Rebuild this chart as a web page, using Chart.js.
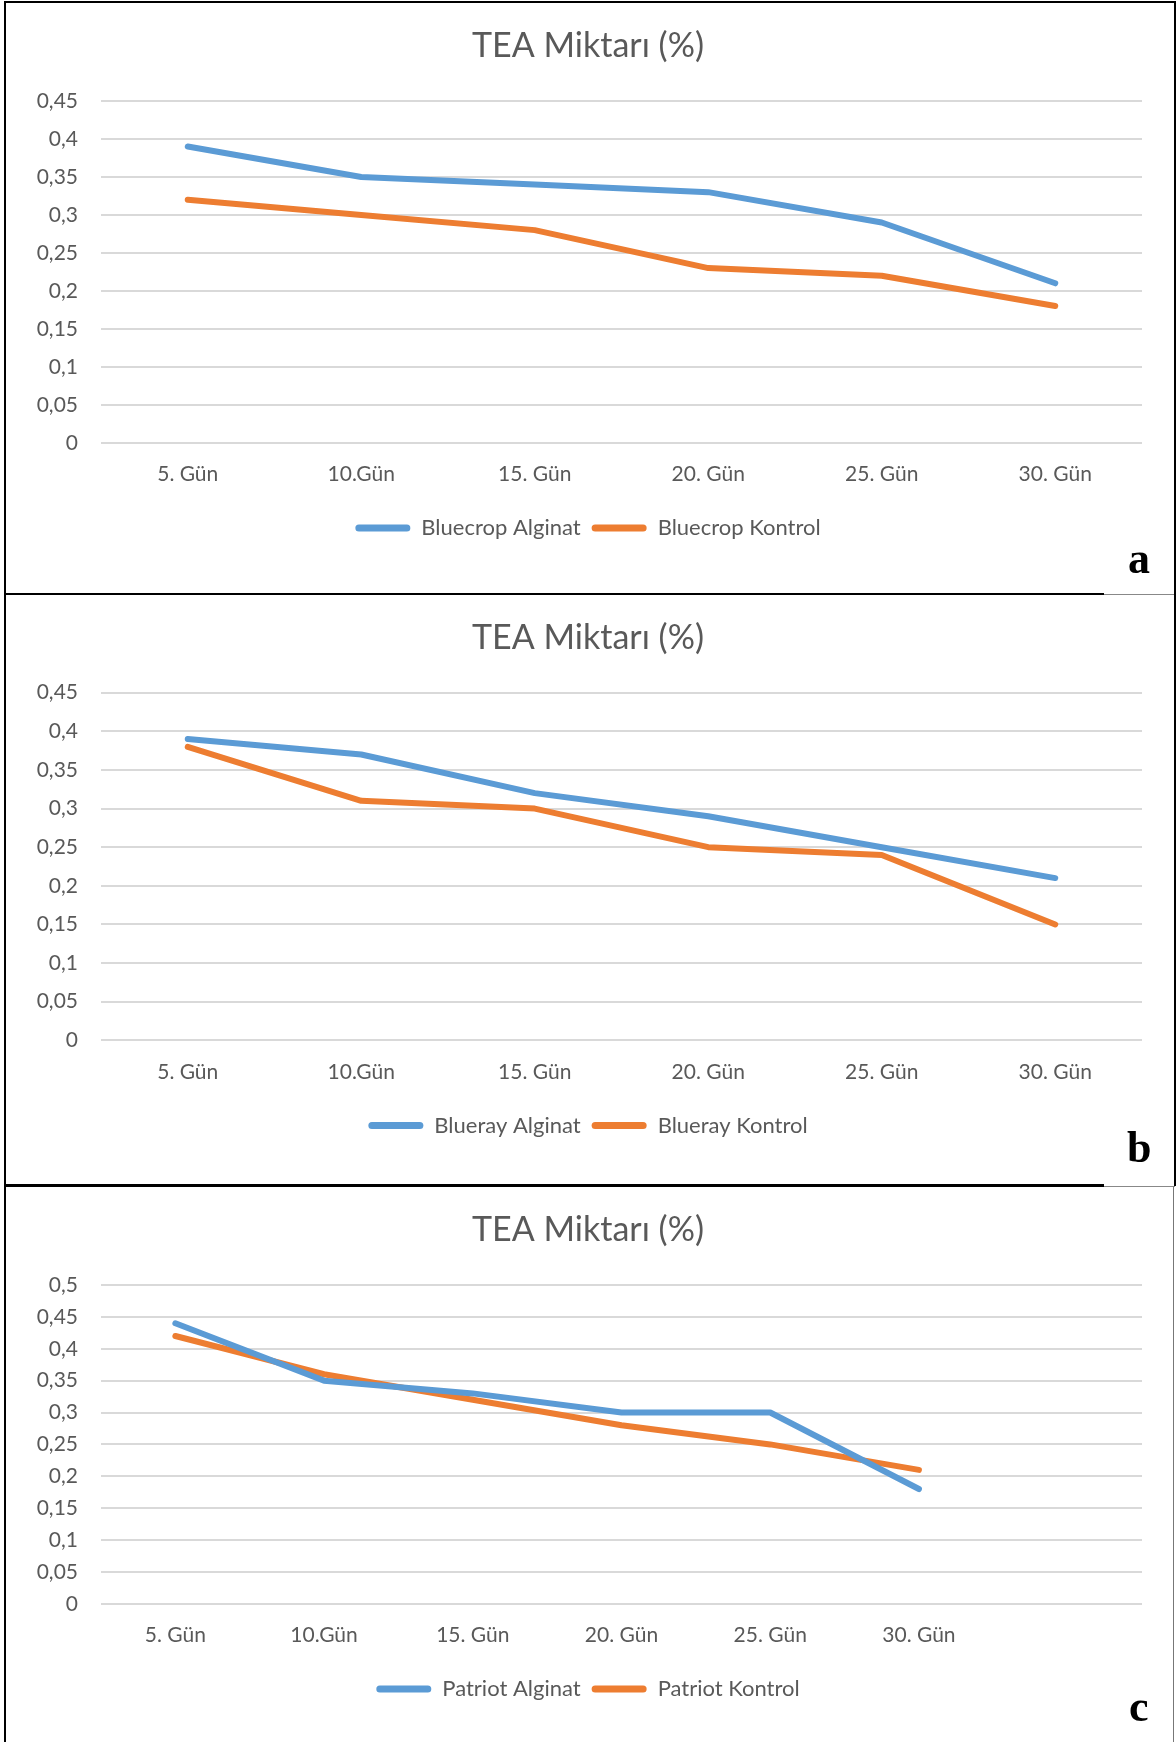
<!DOCTYPE html>
<html>
<head>
<meta charset="utf-8">
<script src="https://cdn.jsdelivr.net/npm/chart.js@4.4.1/dist/chart.umd.min.js"></script>
<style>
  body { margin: 0; background: #fff; }
  #page { position: relative; width: 1176px; height: 1742px; overflow: hidden; background: #fff; }
  .panel { position: absolute; left: 0; }
  .rule { position: absolute; background: #000; }
  .tag { position: absolute; font-family: "Liberation Serif", "Times New Roman", serif; font-weight: bold;
         font-size: 44px; line-height: 44px; color: #000; }
</style>
</head>
<body>
<div id="page">
  <canvas id="chartA" class="panel" width="1176" height="594" style="top:0"></canvas>
  <canvas id="chartB" class="panel" width="1176" height="591" style="top:594px"></canvas>
  <canvas id="chartC" class="panel" width="1176" height="557" style="top:1185px"></canvas>

  <div class="rule" style="left:4px;top:1px;width:1171px;height:2px"></div>
  <div class="rule" style="left:4px;top:593px;width:1100px;height:2px"></div>
  <div class="rule" style="left:1104px;top:594px;width:71px;height:1px;background:#888"></div>
  <div class="rule" style="left:4px;top:1184px;width:1100px;height:3px"></div>
  <div class="rule" style="left:1104px;top:1186px;width:71px;height:1px;background:#888"></div>
  <div class="rule" style="left:4px;top:1px;width:2px;height:1741px"></div>
  <div class="rule" style="left:1174px;top:1px;width:2px;height:1185px"></div>
  <div class="rule" style="left:1173px;top:1186px;width:1px;height:556px;background:#777"></div>

  <div class="tag" style="left:1128px;top:537px">a</div>
  <div class="tag" style="left:1127px;top:1126px">b</div>
  <div class="tag" style="left:1129px;top:1685px">c</div>
</div>

<script>
// x-axis categories
const daysAB = ['5. Gün', '10.Gün', '15. Gün', '20. Gün', '25. Gün', '30. Gün'];
const daysC = ['5. Gün', '10.Gün', '15. Gün', '20. Gün', '25. Gün', '30. Gün', ''];

// TEA (%) values
const bluecropAlginat = [0.39, 0.35, 0.34, 0.33, 0.29, 0.21];
const bluecropKontrol = [0.32, 0.30, 0.28, 0.23, 0.22, 0.18];
const bluerayAlginat = [0.39, 0.37, 0.32, 0.29, 0.25, 0.21];
const bluerayKontrol = [0.38, 0.31, 0.30, 0.25, 0.24, 0.15];
const patriotAlginat = [0.44, 0.35, 0.33, 0.30, 0.30, 0.18];
const patriotKontrol = [0.42, 0.36, 0.32, 0.28, 0.25, 0.21];

// y axis ranges
const yMaxAB = 0.45;
const yMaxC = 0.5;
const yStep = 0.05;

const TEXT = '#595959';
const FONT = 'Lato';

function drawPanel(id, labels, names, blue, orange, yMax, pads) {
    const leftPad = 34;
    new Chart(document.getElementById(id), {
        type: 'line',
        data: {
            labels: labels,
            datasets: [
                { label: names[0], data: blue, borderColor: '#5B9BD5', backgroundColor: '#5B9BD5' },
                { label: names[1], data: orange, borderColor: '#ED7D31', backgroundColor: '#ED7D31' }
            ]
        },
        options: {
            responsive: false,
            animation: false,
            events: [],
            layout: { padding: { left: leftPad, right: 34, top: 0, bottom: pads.bottom } },
            elements: {
                line: { borderWidth: 6, tension: 0, borderCapStyle: 'round', borderJoinStyle: 'round' },
                point: { radius: 0 }
            },
            plugins: {
                title: {
                    display: true,
                    text: 'TEA Miktarı (%)',
                    color: TEXT,
                    font: { family: FONT, size: 34, weight: 'normal', lineHeight: 1.2 },
                    padding: { top: pads.titleTop, bottom: pads.titleBottom }
                },
                legend: {
                    position: 'bottom',
                    labels: {
                        color: TEXT,
                        font: { family: FONT, size: 22 },
                        boxWidth: 55,
                        boxHeight: 7,
                        useBorderRadius: true,
                        borderRadius: 3.5,
                        padding: 11,
                        generateLabels: chart => Chart.defaults.plugins.legend.labels.generateLabels(chart)
                            .map(l => Object.assign(l, { lineWidth: 0 }))
                    }
                },
                tooltip: { enabled: false }
            },
            scales: {
                x: {
                    offset: true,
                    grid: { display: false, drawTicks: false },
                    border: { display: false },
                    ticks: { color: TEXT, padding: 19, maxRotation: 0, font: { family: FONT, size: 21 } }
                },
                y: {
                    min: 0,
                    max: yMax,
                    afterFit: scale => { scale.width = 101 - leftPad; },
                    grid: { color: '#D9D9D9', lineWidth: 2, drawTicks: false },
                    border: { display: false },
                    ticks: {
                        stepSize: yStep,
                        padding: 23,
                        color: TEXT,
                        font: { family: FONT, size: 21 },
                        callback: v => String(Math.round(v * 100) / 100).replace('.', ',')
                    }
                }
            }
        }
    });
}

drawPanel('chartA', daysAB, ['Bluecrop Alginat', 'Bluecrop Kontrol'], bluecropAlginat, bluecropKontrol, yMaxAB,
    { titleTop: 25.6, titleBottom: 34.6, bottom: 45 });
drawPanel('chartB', daysAB, ['Blueray Alginat', 'Blueray Kontrol'], bluerayAlginat, bluerayKontrol, yMaxAB,
    { titleTop: 24.1, titleBottom: 33.8, bottom: 38.5 });
drawPanel('chartC', daysC, ['Patriot Alginat', 'Patriot Kontrol'], patriotAlginat, patriotKontrol, yMaxC,
    { titleTop: 24.6, titleBottom: 34.6, bottom: 32 });
</script>
</body>
</html>
